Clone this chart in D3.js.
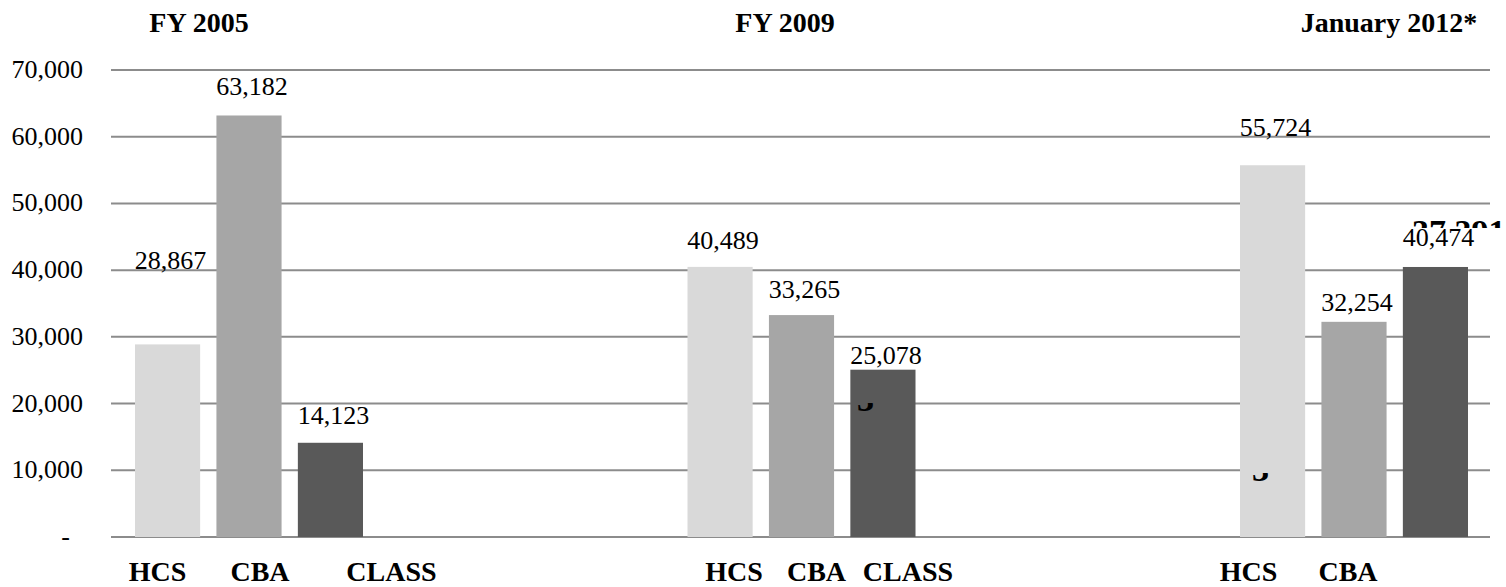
<!DOCTYPE html>
<meta charset="utf-8">
<style>
body { margin: 0; background: #fff; }
text { font-family: "Liberation Serif", "Times New Roman", serif; fill: #000; }
.grid line { stroke: #8c8c8c; stroke-width: 2; }
.ylab { font-size: 26px; }
.val { font-size: 26px; }
.head, .cat { font-size: 28px; font-weight: bold; }
.ghost { font-size: 34px; font-weight: bold; }
</style>
<svg width="1506" height="587"></svg>
<script src="https://cdn.jsdelivr.net/npm/d3@7"></script>
<script>
var groups = ["FY 2005", "FY 2009", "January 2012*"];
var series = ["HCS", "CBA", "CLASS"];
var hcs = [28867, 40489, 55724];
var cba = [63182, 33265, 32254];
var cls = [14123, 25078, 40474];
var yTicks = [0, 10000, 20000, 30000, 40000, 50000, 60000, 70000];
// bottom labels shown per group (the last group has no CLASS label)
var catLabels = [["HCS", "CBA", "CLASS"], ["HCS", "CBA", "CLASS"], ["HCS", "CBA"]];

var colors = {HCS: "#d9d9d9", CBA: "#a6a6a6", CLASS: "#595959"};
var values = {HCS: hcs, CBA: cba, CLASS: cls};

var svg = d3.select("svg");
var gridLeft = 111, gridRight = 1490;

var y = d3.scaleLinear().domain([0, 70000]).range([537, 70]);
var x0 = d3.scaleBand().domain(groups).range([135, 135 + 3 * 552.5]);
var x1 = d3.scaleBand().domain(series).range([0, 228]).paddingInner(0.2);

// gridlines
svg.append("g").attr("class", "grid")
  .selectAll("line").data(yTicks).enter().append("line")
  .attr("x1", gridLeft).attr("x2", gridRight)
  .attr("y1", function(d) { return y(d); })
  .attr("y2", function(d) { return y(d); });

// y labels
var fmt = d3.format(",");
svg.append("g").selectAll("text").data(yTicks).enter().append("text")
  .attr("class", "ylab")
  .attr("text-anchor", "end")
  .attr("x", function(d) { return d === 0 ? 70 : 83; })
  .attr("y", function(d) { return y(d) + 8; })
  .text(function(d) { return d === 0 ? "-" : fmt(d); });

var bars = [];
groups.forEach(function(g, i) {
  series.forEach(function(s) {
    bars.push({group: g, gi: i, s: s, v: values[s][i]});
  });
});

svg.append("g").selectAll("rect").data(bars).enter().append("rect")
  .attr("x", function(d) { return x0(d.group) + x1(d.s); })
  .attr("width", x1.bandwidth())
  .attr("y", function(d) { return y(d.v); })
  .attr("height", function(d) { return y(0) - y(d.v); })
  .attr("fill", function(d) { return colors[d.s]; });

// label lift above bar top (manually placed labels in the original)
var lift = [75, 20, 19, 18, 17, 6, 29, 11, 21];
svg.append("g").selectAll("text").data(bars).enter().append("text")
  .attr("class", "val")
  .attr("text-anchor", "middle")
  .attr("x", function(d) { return x0(d.group) + x1(d.s) + x1.bandwidth() / 2 + 3; })
  .attr("y", function(d, i) { return y(d.v) - lift[i]; })
  .text(function(d) { return fmt(d.v); });

// group headings
var headX = [199, 785, 1389];
svg.append("g").selectAll("text").data(groups).enter().append("text")
  .attr("class", "head")
  .attr("text-anchor", "middle")
  .attr("x", function(d, i) { return headX[i]; })
  .attr("y", 32)
  .text(function(d) { return d; });

// category labels under the bars
var catShift = [[-10, 11, 61], [14, 15, 25], [-24, -6, 0]];
groups.forEach(function(g, i) {
  svg.append("g").selectAll("text").data(catLabels[i]).enter().append("text")
    .attr("class", "cat")
    .attr("text-anchor", "middle")
    .attr("x", function(d, j) { return x0(g) + x1(d) + x1.bandwidth() / 2 + catShift[i][j]; })
    .attr("y", 581)
    .text(function(d) { return d; });
});

// stray clipped label fragments visible in the original
var defs = svg.append("defs");
defs.append("clipPath").attr("id", "c1").append("rect")
  .attr("x", 1400).attr("y", 200).attr("width", 106).attr("height", 28);
defs.append("clipPath").attr("id", "c2").append("rect")
  .attr("x", 840).attr("y", 403).attr("width", 40).attr("height", 9);
defs.append("clipPath").attr("id", "c3").append("rect")
  .attr("x", 1240).attr("y", 473).attr("width", 40).attr("height", 9);
svg.append("text").attr("class", "ghost").attr("clip-path", "url(#c1)")
  .attr("x", 1412).attr("y", 243).text("37,391");
svg.append("text").attr("class", "ghost").attr("clip-path", "url(#c2)")
  .attr("x", 857).attr("y", 411).text("3");
svg.append("text").attr("class", "ghost").attr("clip-path", "url(#c3)")
  .attr("x", 1252).attr("y", 481).text("3");
</script>
